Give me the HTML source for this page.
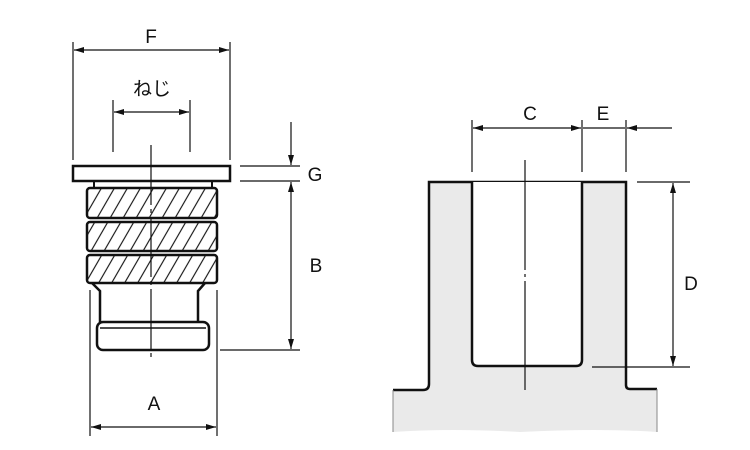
<!DOCTYPE html><html><head><style>body{margin:0;background:#fff}svg{display:block}</style></head><body>
<svg width="750" height="450" viewBox="0 0 750 450" xmlns="http://www.w3.org/2000/svg" font-family="Liberation Sans, Noto Sans CJK JP, sans-serif">
<defs>
<pattern id="h" width="13" height="30" patternUnits="userSpaceOnUse" patternTransform="skewX(-30)"><line x1="2" y1="0" x2="2" y2="30" stroke="#111" stroke-width="1.3"/></pattern>
<marker id="a" markerWidth="10" markerHeight="6" refX="10" refY="3" orient="auto-start-reverse" markerUnits="userSpaceOnUse"><path d="M0,0 L10,3 L0,6z" fill="#111"/></marker>
</defs>
<g stroke="#111" fill="none">
<!-- left part -->
<rect x="73" y="166" width="157" height="15" stroke-width="2.5" fill="#fff"/>
<line x1="94" y1="181" x2="94" y2="188" stroke-width="2"/><line x1="212" y1="181" x2="212" y2="188" stroke-width="2"/>
<rect x="87" y="188" width="130" height="30" rx="3" stroke-width="2.5" fill="url(#h)"/>
<rect x="87" y="222" width="130" height="29" rx="3" stroke-width="2.5" fill="url(#h)"/>
<rect x="87" y="255" width="130" height="28" rx="3" stroke-width="2.5" fill="url(#h)"/>
<path d="M92 283 L100 291 L100 322 M205 283 L198 291 L198 322" stroke-width="2.5"/>
<rect x="97" y="322" width="112" height="28" rx="6" stroke-width="2.5" fill="#fff"/>
<line x1="100" y1="328" x2="206" y2="328" stroke-width="1.5"/>
<line x1="151" y1="145" x2="151" y2="360" stroke-width="1.2" stroke-dasharray="60 4 4 4"/>
<g stroke-width="1.2">
<line x1="73" y1="42" x2="73" y2="160"/><line x1="230" y1="42" x2="230" y2="160"/>
<line x1="74" y1="50" x2="229" y2="50" marker-start="url(#a)" marker-end="url(#a)"/>
<line x1="113" y1="100" x2="113" y2="152"/><line x1="190" y1="100" x2="190" y2="152"/>
<line x1="114" y1="112" x2="189" y2="112" marker-start="url(#a)" marker-end="url(#a)"/>
<line x1="240" y1="166" x2="300" y2="166"/><line x1="240" y1="181" x2="300" y2="181"/>
<line x1="291" y1="122" x2="291" y2="165" marker-end="url(#a)"/>
<line x1="291" y1="182" x2="291" y2="349" marker-start="url(#a)" marker-end="url(#a)"/>
<line x1="220" y1="350" x2="300" y2="350"/>
<line x1="90" y1="290" x2="90" y2="436"/><line x1="217" y1="290" x2="217" y2="436"/>
<line x1="91" y1="427" x2="216" y2="427" marker-start="url(#a)" marker-end="url(#a)"/>
</g>
<!-- right part -->
<path d="M429 182 L626 182 L626 385 Q626 389 630 389 L657 389 L657 432 Q600 428 520 432 Q450 428 393 432 L393 390 L423 390 Q429 390 429 384 Z" fill="#eaeaea" stroke="none"/>
<path d="M393 390 L423 390 Q429 390 429 384 L429 182 L626 182 L626 385 Q626 389 630 389 L657 389" stroke-width="2.5"/>
<path d="M393 390 L393 432 M657 389 L657 432" stroke-width="1" stroke="#888"/>
<path d="M472 182 L472 360 Q472 366 478 366 L576 366 Q582 366 582 360 L582 182" stroke-width="2.5" fill="#fff"/>
<line x1="525" y1="160" x2="525" y2="390" stroke-width="1.2" stroke-dasharray="110 4 3 4"/>
<g stroke-width="1.2">
<line x1="472" y1="120" x2="472" y2="172"/><line x1="582" y1="120" x2="582" y2="172"/><line x1="626" y1="120" x2="626" y2="172"/>
<line x1="473" y1="128" x2="581" y2="128" marker-start="url(#a)" marker-end="url(#a)"/>
<line x1="583" y1="128" x2="625" y2="128"/>
<line x1="672" y1="128" x2="627" y2="128" marker-end="url(#a)"/>
<line x1="637" y1="182" x2="690" y2="182"/><line x1="592" y1="367" x2="690" y2="367"/>
<line x1="673" y1="183" x2="673" y2="366" marker-start="url(#a)" marker-end="url(#a)"/>
</g>
</g>
<g font-size="19" fill="#111" text-anchor="middle">
<text x="151" y="43">F</text><text x="152" y="95">ねじ</text><text x="315" y="181">G</text>
<text x="316" y="272">B</text><text x="154" y="410">A</text><text x="530" y="120">C</text>
<text x="603" y="120">E</text><text x="691" y="290">D</text>
</g>
</svg></body></html>
